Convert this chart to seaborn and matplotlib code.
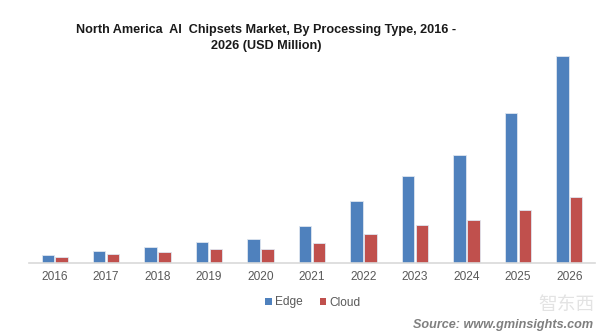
import matplotlib
matplotlib.use("Agg")
import matplotlib.pyplot as plt
import seaborn as sns
import pandas as pd
from matplotlib.patches import Patch

years = ["2016", "2017", "2018", "2019", "2020", "2021", "2022", "2023", "2024", "2025", "2026"]
edge = [7.4, 11.4, 15.4, 20.4, 24.0, 36.4, 62.0, 87.0, 108.0, 150.0, 207.0]
cloud = [6.0, 8.4, 10.4, 13.4, 14.0, 19.4, 29.0, 38.0, 43.0, 53.0, 66.0]
series = ["Edge", "Cloud"]
colors = ["#4F81BD", "#C0504D"]

df = pd.DataFrame({
    "Year": years * 2,
    "Value": edge + cloud,
    "Type": [series[0]] * len(years) + [series[1]] * len(years),
})

sns.set_theme(style="white")
plt.rcParams["font.family"] = ["Liberation Sans", "DejaVu Sans"]

W, H = 604, 335
fig = plt.figure(figsize=(W / 100, H / 100), dpi=100)
ax = fig.add_axes([29 / W, 72.5 / H, (595 - 29) / W, 212.5 / H])

sns.barplot(data=df, x="Year", y="Value", hue="Type", palette=colors,
            width=0.54, gap=0.1, ax=ax, legend=False,
            edgecolor="#dfe6f0", linewidth=0.6, saturation=1)

ax.set_xlim(-0.5, len(years) - 0.5)
ax.set_ylim(0, 212.5)
ax.set_xlabel("")
ax.set_ylabel("")
ax.set_yticks([])
for s in ["top", "right", "left"]:
    ax.spines[s].set_visible(False)
ax.spines["bottom"].set_color("#d9d9d9")
ax.spines["bottom"].set_linewidth(1.2)
ax.tick_params(axis="x", length=0, pad=6, labelsize=8.6, labelcolor="#595959")

fig.text(266 / W, 1 - 29.5 / H, "North America  AI  Chipsets Market, By Processing Type, 2016 -",
         ha="center", va="center", fontsize=9.1, fontweight="bold", color="#1a1a1a")
fig.text(266 / W, 1 - 45.5 / H, "2026 (USD Million)",
         ha="center", va="center", fontsize=9.1, fontweight="bold", color="#1a1a1a")

handles = [Patch(facecolor=c, edgecolor="none", label=l) for l, c in zip(series, colors)]
fig.legend(handles=handles, loc="center", bbox_to_anchor=(313 / W, 1 - 302.5 / H), ncol=2,
           frameon=False, fontsize=8.6, labelcolor="#595959", handlelength=0.55,
           handleheight=0.55, handletextpad=0.3, columnspacing=1.4)

fig.text(566 / W, 1 - 304 / H, "智东西", ha="center", va="center", fontsize=13.5,
         color="#e3e3e3", family=["Noto Sans CJK SC", "DejaVu Sans"])
fig.text(593 / W, 1 - 325 / H, "Source: www.gminsights.com", ha="right", va="center",
         fontsize=9.1, fontweight="bold", fontstyle="italic", color="#7f7f7f")

fig.savefig("out.png", dpi=100)
